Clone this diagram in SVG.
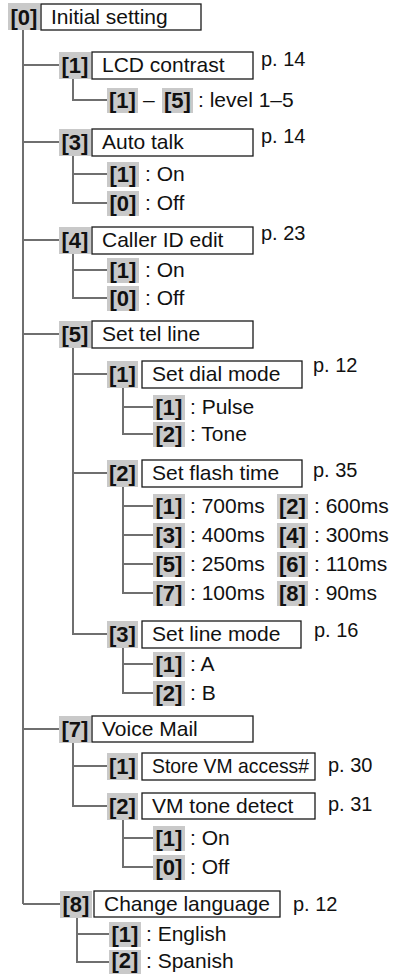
<svg xmlns="http://www.w3.org/2000/svg" width="394" height="974" viewBox="0 0 394 974">
<style>
.ln{stroke:#6f6f6f;stroke-width:2;fill:none}
.bx{fill:#fff;stroke:#1a1a1a;stroke-width:1.3}
.gy{fill:#c9c9c9}
.k{font-family:"Liberation Sans",Arial,sans-serif;font-weight:bold;font-size:22px;text-anchor:middle;fill:#111}
.t{font-family:"Liberation Sans",Arial,sans-serif;font-size:21px;fill:#111}
.p{font-family:"Liberation Sans",Arial,sans-serif;font-size:20px;fill:#111}
</style>
<rect width="394" height="974" fill="#fff"/>
<g id="connectors" class="ln">
<path d="M23,30V904"/>
<path d="M23,65H59M23,142H59M23,240H59M23,334H59M23,729H59M23,904H60"/>
<path d="M73,79V100H107"/>
<path d="M73,156V203H107M73,174H107"/>
<path d="M73,254V298H107M73,270H107"/>
<path d="M73,348V634H107M73,374H107M73,473H107"/>
<path d="M123,388V434H153M123,407H153"/>
<path d="M123,487V593H153M123,506H153M123,535H153M123,564H153"/>
<path d="M123,648V693H153M123,664H153"/>
<path d="M73,742V806H107M73,766H107"/>
<path d="M123,820V867H153M123,838H153"/>
<path d="M77,918V962H109M77,934H109"/>
</g>
<g id="n0"><rect class="gy" x="8" y="3" width="32" height="27"/><text class="k" x="24" y="25">[0]</text><rect class="bx" x="41" y="4" width="160" height="26"/><text class="t" x="51" y="24">Initial setting</text></g>
<g id="n1"><rect class="gy" x="59" y="52" width="32" height="27"/><text class="k" x="75" y="73">[1]</text><rect class="bx" x="92" y="52" width="161" height="27"/><text class="t" x="102" y="72">LCD contrast</text><text class="p" x="261" y="66">p. 14</text></g>
<g id="n1o"><rect class="gy" x="107" y="88" width="31" height="25"/><text class="k" x="122.5" y="108">[1]</text><text class="t" x="143" y="107">–</text><rect class="gy" x="162" y="88" width="31" height="25"/><text class="k" x="177.5" y="108">[5]</text><text class="t" x="198" y="107">: level 1–5</text></g>
<g id="n3"><rect class="gy" x="59" y="129" width="32" height="27"/><text class="k" x="75" y="150">[3]</text><rect class="bx" x="92" y="129" width="161" height="27"/><text class="t" x="102" y="149">Auto talk</text><text class="p" x="261" y="143">p. 14</text></g>
<g id="n3a"><rect class="gy" x="107" y="162" width="32" height="25"/><text class="k" x="123" y="182">[1]</text><text class="t" x="145" y="181">: On</text></g>
<g id="n3b"><rect class="gy" x="107" y="191" width="32" height="25"/><text class="k" x="123" y="211">[0]</text><text class="t" x="145" y="210">: Off</text></g>
<g id="n4"><rect class="gy" x="59" y="227" width="32" height="27"/><text class="k" x="75" y="248">[4]</text><rect class="bx" x="92" y="227" width="161" height="27"/><text class="t" x="102" y="247">Caller ID edit</text><text class="p" x="261" y="240">p. 23</text></g>
<g id="n4a"><rect class="gy" x="107" y="258" width="32" height="25"/><text class="k" x="123" y="278">[1]</text><text class="t" x="145" y="277">: On</text></g>
<g id="n4b"><rect class="gy" x="107" y="286" width="32" height="25"/><text class="k" x="123" y="306">[0]</text><text class="t" x="145" y="305">: Off</text></g>
<g id="n5"><rect class="gy" x="59" y="321" width="32" height="27"/><text class="k" x="75" y="342">[5]</text><rect class="bx" x="92" y="321" width="161" height="27"/><text class="t" x="102" y="341">Set tel line</text></g>
<g id="n51"><rect class="gy" x="107" y="361" width="31" height="27"/><text class="k" x="122.5" y="382">[1]</text><rect class="bx" x="142" y="361" width="160" height="27"/><text class="t" x="152" y="381">Set dial mode</text><text class="p" x="313" y="372">p. 12</text></g>
<g id="n51a"><rect class="gy" x="153" y="395" width="32" height="25"/><text class="k" x="169" y="415">[1]</text><text class="t" x="190" y="414">: Pulse</text></g>
<g id="n51b"><rect class="gy" x="153" y="422" width="32" height="25"/><text class="k" x="169" y="442">[2]</text><text class="t" x="190" y="441">: Tone</text></g>
<g id="n52"><rect class="gy" x="107" y="460" width="31" height="27"/><text class="k" x="122.5" y="481">[2]</text><rect class="bx" x="142" y="460" width="160" height="27"/><text class="t" x="152" y="480">Set flash time</text><text class="p" x="313" y="477">p. 35</text></g>
<g id="n52a"><rect class="gy" x="153" y="494" width="32" height="25"/><text class="k" x="169" y="514">[1]</text><text class="t" x="190" y="513">: 700ms</text><rect class="gy" x="277" y="494" width="31" height="25"/><text class="k" x="292.5" y="514">[2]</text><text class="t" x="314" y="513">: 600ms</text></g>
<g id="n52b"><rect class="gy" x="153" y="523" width="32" height="25"/><text class="k" x="169" y="543">[3]</text><text class="t" x="190" y="542">: 400ms</text><rect class="gy" x="277" y="523" width="31" height="25"/><text class="k" x="292.5" y="543">[4]</text><text class="t" x="314" y="542">: 300ms</text></g>
<g id="n52c"><rect class="gy" x="153" y="552" width="32" height="25"/><text class="k" x="169" y="572">[5]</text><text class="t" x="190" y="571">: 250ms</text><rect class="gy" x="277" y="552" width="31" height="25"/><text class="k" x="292.5" y="572">[6]</text><text class="t" x="314" y="571">: 110ms</text></g>
<g id="n52d"><rect class="gy" x="153" y="581" width="32" height="25"/><text class="k" x="169" y="601">[7]</text><text class="t" x="190" y="600">: 100ms</text><rect class="gy" x="277" y="581" width="31" height="25"/><text class="k" x="292.5" y="601">[8]</text><text class="t" x="314" y="600">: 90ms</text></g>
<g id="n53"><rect class="gy" x="107" y="621" width="31" height="27"/><text class="k" x="122.5" y="642">[3]</text><rect class="bx" x="142" y="621" width="159" height="27"/><text class="t" x="152" y="641">Set line mode</text><text class="p" x="314" y="637">p. 16</text></g>
<g id="n53a"><rect class="gy" x="153" y="652" width="32" height="25"/><text class="k" x="169" y="672">[1]</text><text class="t" x="190" y="671">: A</text></g>
<g id="n53b"><rect class="gy" x="153" y="681" width="32" height="25"/><text class="k" x="169" y="701">[2]</text><text class="t" x="190" y="700">: B</text></g>
<g id="n7"><rect class="gy" x="59" y="716" width="32" height="27"/><text class="k" x="75" y="737">[7]</text><rect class="bx" x="92" y="716" width="161" height="26"/><text class="t" x="102" y="736">Voice Mail</text></g>
<g id="n71"><rect class="gy" x="107" y="753" width="31" height="27"/><text class="k" x="122.5" y="774">[1]</text><rect class="bx" x="142" y="753" width="173" height="27"/><text class="t" x="152" y="773" textLength="157" lengthAdjust="spacingAndGlyphs">Store VM access#</text><text class="p" x="328" y="772">p. 30</text></g>
<g id="n72"><rect class="gy" x="107" y="793" width="31" height="27"/><text class="k" x="122.5" y="814">[2]</text><rect class="bx" x="142" y="793" width="173" height="26"/><text class="t" x="152" y="813">VM tone detect</text><text class="p" x="328" y="811">p. 31</text></g>
<g id="n72a"><rect class="gy" x="153" y="826" width="32" height="25"/><text class="k" x="169" y="846">[1]</text><text class="t" x="190" y="845">: On</text></g>
<g id="n72b"><rect class="gy" x="153" y="855" width="32" height="25"/><text class="k" x="169" y="875">[0]</text><text class="t" x="190" y="874">: Off</text></g>
<g id="n8"><rect class="gy" x="60" y="891" width="32" height="27"/><text class="k" x="76" y="912">[8]</text><rect class="bx" x="94" y="891" width="186" height="26"/><text class="t" x="104" y="911">Change language</text><text class="p" x="293" y="911">p. 12</text></g>
<g id="n8a"><rect class="gy" x="109" y="922" width="32" height="25"/><text class="k" x="125" y="942">[1]</text><text class="t" x="146" y="941">: English</text></g>
<g id="n8b"><rect class="gy" x="109" y="950" width="32" height="24"/><text class="k" x="125" y="968">[2]</text><text class="t" x="146" y="968">: Spanish</text></g>
</svg>
